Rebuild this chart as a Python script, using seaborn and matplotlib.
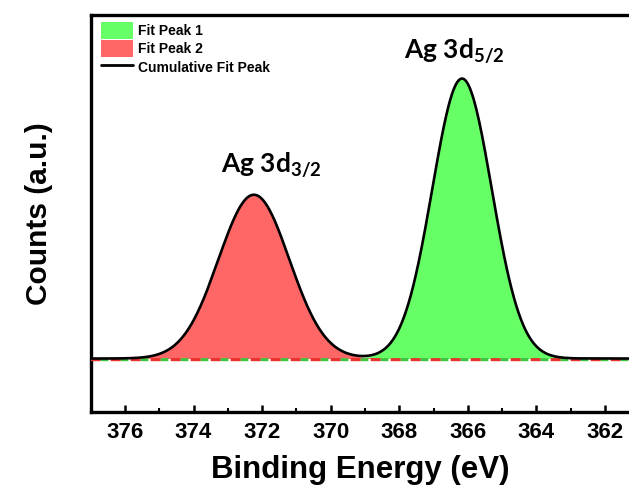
import numpy as np
import pandas as pd
import matplotlib
matplotlib.use("Agg")
import matplotlib.pyplot as plt
from matplotlib.patches import Patch
from matplotlib.lines import Line2D
from matplotlib.ticker import MultipleLocator
import seaborn as sns

# ---- data: fitted peak parameters ----
peak_names = ["Fit Peak 1", "Fit Peak 2"]
peak_centers = [366.17, 372.24]      # eV
peak_heights = [1.00, 0.585]         # a.u.
peak_fwhm = [2.04, 2.43]             # eV
peak_colors = ["#66FF66", "#FF6666"]
baseline_colors = ["#3FC43F", "#E8312B"]
peak_labels = [r"Ag 3d$_{5/2}$", r"Ag 3d$_{3/2}$"]
label_pos_x = [367.85, 373.2]
label_pos_y = [1.069, 0.664]
x_ticks = [376, 374, 372, 370, 368, 366, 364, 362]
x_range = [377.0, 361.3]

sns.set_theme(style="white")
plt.rcParams["font.family"] = ["Liberation Sans", "DejaVu Sans"]
plt.rcParams["text.color"] = "black"
plt.rcParams["axes.labelcolor"] = "black"
plt.rcParams["xtick.color"] = "black"
plt.rcParams["ytick.color"] = "black"
plt.rcParams["lines.scale_dashes"] = False
plt.rcParams["mathtext.fontset"] = "custom"
plt.rcParams["mathtext.rm"] = "Lato:bold"
plt.rcParams["mathtext.it"] = "Lato:bold"
plt.rcParams["mathtext.bf"] = "Lato:bold"

energy = np.linspace(x_range[0], x_range[1], 1500)
profiles = []
for name, c, h, w in zip(peak_names, peak_centers, peak_heights, peak_fwhm):
    s = w / 2.3548
    prof = h * np.exp(-0.5 * ((energy - c) / s) ** 2)
    profiles.append(prof)
cum = np.sum(profiles, axis=0)
df = pd.DataFrame({"energy": energy, "counts": cum})

fig = plt.figure(figsize=(6.29, 4.91), dpi=100)
ax = fig.add_axes([90.7 / 629, 1 - 412 / 491, 1 - 90.7 / 629, (412 - 15) / 491])

# fills
for prof, col in zip(profiles, peak_colors):
    ax.fill_between(energy, 0, prof, color=col, lw=0, zorder=2)

# baselines (dashed), slightly below the cumulative line
base_y = np.full_like(energy, -0.004)
ax.plot(energy, base_y, color=baseline_colors[1], lw=2.2,
        dashes=(7.2, 7.2), dash_capstyle="butt", zorder=3)
ax.plot(energy, base_y, color=baseline_colors[0], lw=2.2,
        dashes=(0, 7.2, 5.5, 1.7), dash_capstyle="butt", zorder=3)

# cumulative fit
sns.lineplot(data=df, x="energy", y="counts", color="black", lw=1.9,
             ax=ax, zorder=4, legend=False)

for lab, lx, ly in zip(peak_labels, label_pos_x, label_pos_y):
    ax.text(lx, ly, lab, ha="left", va="baseline", fontsize=19,
            family="Lato", fontweight="bold", color="black")

ax.set_xlim(x_range[0], x_range[1])
ax.set_ylim(-0.191, 1.227)
ax.set_xticks(x_ticks)
ax.set_xticklabels([str(t) for t in x_ticks])
ax.xaxis.set_minor_locator(MultipleLocator(1))
ax.set_yticks([])
ax.tick_params(axis="x", which="major", direction="in", length=5, width=1.8,
               labelsize=16, pad=7, bottom=True, colors="black")
ax.tick_params(axis="x", which="minor", direction="in", length=3, width=1.5,
               bottom=True, colors="black")
for lbl in ax.get_xticklabels():
    lbl.set_fontweight("bold")
ax.set_xlabel("Binding Energy (eV)", fontsize=22.5, fontweight="bold",
              labelpad=9, color="black")
ax.set_ylabel("Counts (a.u.)", fontsize=21.5, fontweight="bold", labelpad=27,
              color="black")

for side in ["left", "bottom", "top"]:
    ax.spines[side].set_color("black")
    ax.spines[side].set_linewidth(2.4)
ax.spines["right"].set_visible(False)

handles = [Patch(facecolor=peak_colors[0], edgecolor="none"),
           Patch(facecolor=peak_colors[1], edgecolor="none"),
           Line2D([0], [0], color="black", lw=2.0)]
leg = fig.legend(handles, ["Fit Peak 1", "Fit Peak 2", "Cumulative Fit Peak"],
                 loc="upper left", bbox_to_anchor=(101 / 629, 1 - 22 / 491),
                 frameon=False, borderpad=0, borderaxespad=0,
                 handlelength=2.3, handleheight=1.5, handletextpad=0.35,
                 labelspacing=0.1, prop={"weight": "bold", "size": 10})
for t in leg.get_texts():
    t.set_color("black")

fig.savefig("out.png", dpi=100)
